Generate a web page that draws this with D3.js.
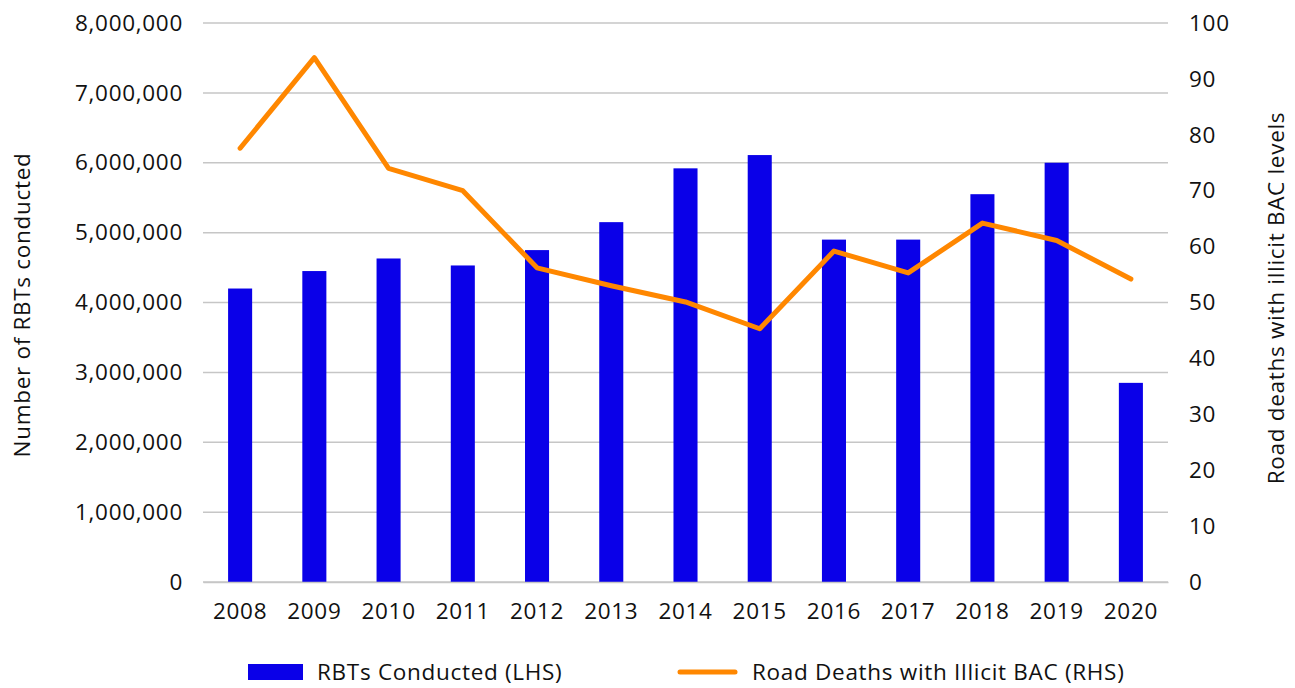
<!DOCTYPE html>
<html>
<head>
<meta charset="utf-8">
<script src="https://cdn.jsdelivr.net/npm/d3@7"></script>
<style>
  body { margin: 0; background: #fff; }
  text { font-family: "Open Sans", Lato, sans-serif; fill: #111; letter-spacing: 0.7px; }
</style>
</head>
<body>
<svg id="chart" width="1295" height="688"></svg>
<script>
// chart data
var years = ["2008", "2009", "2010", "2011", "2012", "2013", "2014",
             "2015", "2016", "2017", "2018", "2019", "2020"];
var rbts = [4200000, 4450000, 4630000, 4530000, 4750000, 5150000, 5920000,
            6110000, 4900000, 4900000, 5550000, 6000000, 2850000];
var deaths = [77.6, 93.8, 74, 70, 56.2, 53, 50.1, 45.3, 59.2, 55.3, 64.2, 61.1, 54.2];
var leftTicks = d3.range(0, 8000001, 1000000);
var rightTicks = d3.range(0, 101, 10);

var svg = d3.select("#chart");

var margin = {left: 203, right: 127, top: 23, bottom: 106};
var W = 1295, H = 688;
var x0 = margin.left, x1 = W - margin.right;
var y0 = H - margin.bottom, y1 = margin.top;
var fs = "22.5px";

var x = d3.scaleBand().domain(years).range([x0, x1]).paddingInner(0.676).paddingOuter(0.338);
var yL = d3.scaleLinear().domain([0, 8000000]).range([y0, y1]);
var yR = d3.scaleLinear().domain([0, 100]).range([y0, y1]);

var fmt = d3.format(",");

// gridlines
svg.append("g")
    .selectAll("line")
    .data(leftTicks)
    .join("line")
      .attr("x1", x0).attr("x2", x1)
      .attr("y1", d => yL(d)).attr("y2", d => yL(d))
      .attr("stroke", "#c6c6c6")
      .attr("stroke-width", 1.5);

// left axis
var gL = svg.append("g")
    .attr("transform", `translate(${x0},0)`)
    .call(d3.axisLeft(yL).tickValues(leftTicks).tickFormat(fmt).tickSize(0).tickPadding(20));
gL.select(".domain").remove();
gL.selectAll("text").style("font-size", fs).attr("fill", "#111");

// right axis
var gR = svg.append("g")
    .attr("transform", `translate(${x1},0)`)
    .call(d3.axisRight(yR).tickValues(rightTicks).tickSize(0).tickPadding(21));
gR.select(".domain").remove();
gR.selectAll("text").style("font-size", fs).attr("fill", "#111");

// bars
svg.append("g")
    .selectAll("rect")
    .data(years)
    .join("rect")
      .attr("x", d => x(d))
      .attr("width", x.bandwidth())
      .attr("y", (d, i) => yL(rbts[i]))
      .attr("height", (d, i) => y0 - yL(rbts[i]))
      .attr("fill", "#0a00e8");

// bottom axis
var gB = svg.append("g")
    .attr("transform", `translate(0,${y0})`)
    .call(d3.axisBottom(x).tickSize(0).tickPadding(21));
gB.select(".domain").attr("stroke", "#c6c6c6").attr("stroke-width", 1.5);
gB.selectAll("text").style("font-size", fs).attr("fill", "#111");

// line
var line = d3.line()
    .x((d, i) => x(years[i]) + x.bandwidth() / 2)
    .y(d => yR(d));

svg.append("path")
    .datum(deaths)
    .attr("d", line)
    .attr("fill", "none")
    .attr("stroke", "#ff8700")
    .attr("stroke-width", 5)
    .attr("stroke-linejoin", "round")
    .attr("stroke-linecap", "round");

// axis titles
svg.append("text")
    .attr("transform", `translate(30,305) rotate(-90)`)
    .attr("text-anchor", "middle")
    .style("font-size", fs)
    .text("Number of RBTs conducted");

svg.append("text")
    .attr("transform", `translate(1284,298) rotate(-90)`)
    .attr("text-anchor", "middle")
    .style("font-size", fs)
    .text("Road deaths with illicit BAC levels");

// legend
var leg = svg.append("g");
leg.append("rect")
    .attr("x", 248).attr("y", 664)
    .attr("width", 55).attr("height", 16)
    .attr("fill", "#0a00e8");
leg.append("text")
    .attr("x", 317).attr("y", 680)
    .style("font-size", fs)
    .text("RBTs Conducted (LHS)");
leg.append("line")
    .attr("x1", 680).attr("x2", 735)
    .attr("y1", 672).attr("y2", 672)
    .attr("stroke", "#ff8700")
    .attr("stroke-width", 5)
    .attr("stroke-linecap", "round");
leg.append("text")
    .attr("x", 752).attr("y", 680)
    .style("font-size", fs)
    .text("Road Deaths with Illicit BAC (RHS)");
</script>
</body>
</html>
